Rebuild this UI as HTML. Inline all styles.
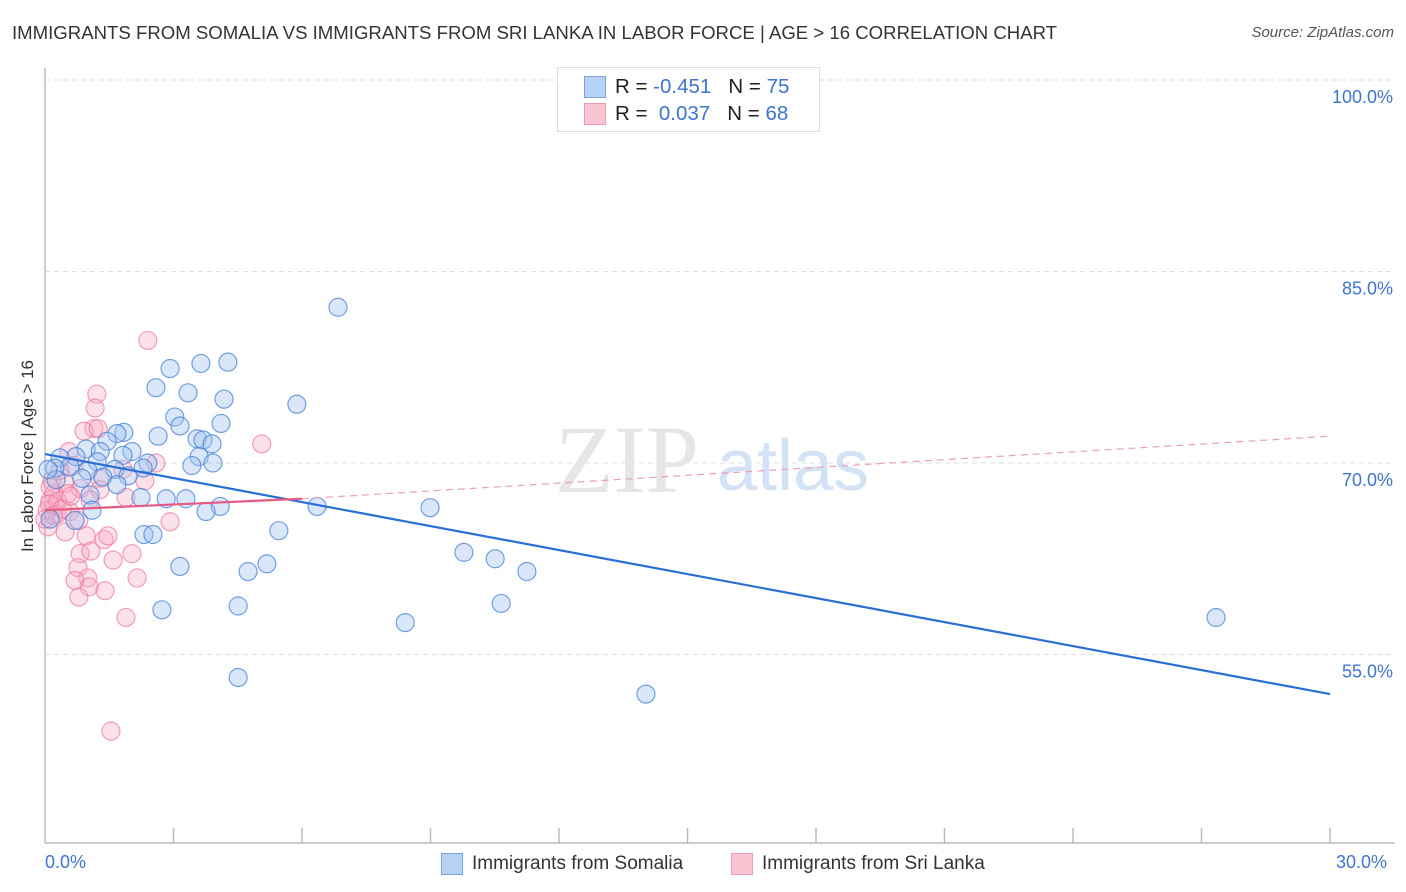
<!DOCTYPE html>
<html><head><meta charset="utf-8"><style>
body{margin:0;background:#fff;font-family:"Liberation Sans",sans-serif;}
#wrap{position:relative;width:1406px;height:892px;overflow:hidden;}
.t{position:absolute;white-space:nowrap;}
</style></head><body>
<div id="wrap">
<div class="t" style="left:12px;top:22px;font-size:18.6px;color:#333;">IMMIGRANTS FROM SOMALIA VS IMMIGRANTS FROM SRI LANKA IN LABOR FORCE | AGE &gt; 16 CORRELATION CHART</div>
<div class="t" style="right:12px;top:24px;font-size:15px;color:#555;font-style:italic;">Source: ZipAtlas.com</div>
<div class="t" style="left:28px;top:456px;font-size:17px;color:#333;transform:translate(-50%,-50%) rotate(-90deg);">In Labor Force | Age &gt; 16</div>
<svg id="svg" width="1406" height="892" style="position:absolute;left:0;top:0"></svg>
<div style="position:absolute;left:557px;top:67px;width:261px;height:63px;border:1px solid #ddd;background:#fff;">
 <div style="position:absolute;left:26px;top:8px;width:20px;height:20px;background:#b8d2f5;border:1px solid #7aa6e0;"></div>
 <div class="t" style="left:57px;top:7px;font-size:20.5px;color:#222;">R = <span style="color:#3f74cf">-0.451</span>&nbsp;&nbsp;&nbsp;N = <span style="color:#3f74cf">75</span></div>
 <div style="position:absolute;left:26px;top:35px;width:20px;height:20px;background:#fac4d3;border:1px solid #f09ab3;"></div>
 <div class="t" style="left:57px;top:34px;font-size:20.5px;color:#222;">R = &nbsp;<span style="color:#3f74cf">0.037</span>&nbsp;&nbsp;&nbsp;N = <span style="color:#3f74cf">68</span></div>
</div>
<div class="t" style="left:45px;top:852px;font-size:18px;color:#3f74cf;">0.0%</div>
<div class="t" style="left:1336px;top:852px;font-size:18px;color:#3f74cf;">30.0%</div>
<div style="position:absolute;left:441px;top:853px;width:20px;height:20px;background:#b8d2f5;border:1px solid #7aa6e0;"></div>
<div class="t" style="left:472px;top:853px;font-size:19px;color:#333;">Immigrants from Somalia</div>
<div style="position:absolute;left:731px;top:853px;width:20px;height:20px;background:#fac4d3;border:1px solid #f09ab3;"></div>
<div class="t" style="left:762px;top:853px;font-size:19px;color:#333;">Immigrants from Sri Lanka</div>
</div>
<script>
const yTicks=[100,85,70,55];
const yTickLabels=["100.0%","85.0%","70.0%","55.0%"];
const somaliaX=[6.84,4.27,3.64,2.92,2.59,3.34,4.18,5.88,3.03,4.11,3.15,1.84,1.68,2.64,1.45,3.55,3.69,3.90,0.96,1.29,2.03,1.82,3.60,0.72,0.35,1.22,2.40,3.92,3.43,0.58,0.23,2.29,1.63,1.00,1.94,1.35,0.86,0.26,1.68,2.24,2.83,3.29,1.05,4.09,3.76,6.35,8.99,1.10,5.46,2.31,2.52,5.18,4.74,3.15,9.78,10.51,11.25,10.65,4.51,2.73,8.41,27.34,4.51,14.03,0.70,0.12,0.07];
const somaliaY=[82.2,77.9,77.8,77.4,75.9,75.5,75.0,74.6,73.6,73.1,72.9,72.4,72.3,72.1,71.7,71.9,71.8,71.5,71.1,70.9,70.9,70.6,70.5,70.5,70.4,70.1,70.0,70.0,69.8,69.7,69.6,69.6,69.5,69.4,69.0,68.9,68.8,68.7,68.3,67.3,67.2,67.2,67.5,66.6,66.2,66.6,66.5,66.3,64.7,64.4,64.4,62.1,61.5,61.9,63.0,62.5,61.5,59.0,58.8,58.5,57.5,57.9,53.2,51.9,65.5,65.6,69.5];
const sriX=[2.40,1.21,1.17,1.14,0.91,1.24,0.56,5.06,2.59,0.68,1.82,0.35,1.28,2.33,0.16,0.47,0.82,1.28,0.21,0.54,1.05,1.89,0.12,0.23,0.05,0.28,0.58,0.79,2.92,0.07,0.47,0.96,1.38,1.47,0.82,1.07,2.03,1.59,0.77,1.00,0.70,2.15,1.03,1.40,0.79,1.89,1.54,0.0,0.12,0.3,0.1,0.2,0.4,0.6];
const sriY=[79.6,75.4,74.3,72.7,72.5,72.7,70.9,71.5,70.0,69.8,69.5,69.4,68.8,68.6,68.6,68.4,68.0,67.9,67.6,67.6,67.1,67.3,67.1,66.6,66.3,66.0,66.2,65.5,65.4,65.0,64.6,64.3,64.0,64.3,62.9,63.1,62.9,62.4,61.8,61.0,60.8,61.0,60.3,60.0,59.5,57.9,49.0,65.6,68.1,67.0,66.8,65.9,66.4,67.4];
const somaliaTrend=[[0,70.7],[30,51.9]];
const sriTrendSolid=[[0,66.3],[6,67.2]];
const sriTrendDash=[[6,67.2],[30,72.1]];
const X=v=>45+v/30*1285, Y=v=>80+(100-v)*12.767;
const svg=document.getElementById('svg'),NS='http://www.w3.org/2000/svg';
function mk(t,a){const e=document.createElementNS(NS,t);for(const k in a)e.setAttribute(k,a[k]);svg.appendChild(e);return e;}
let e=mk('line',{x1:45,y1:68,x2:45,y2:843,stroke:'#bbb','stroke-width':1.5});

e=mk('line',{x1:45,y1:843,x2:1395,y2:843,stroke:'#bbb','stroke-width':1.5});

for(let i=1;i<=10;i++){e=mk('line',{x1:45+i*128.5,y1:828,x2:45+i*128.5,y2:843,stroke:'#bbb','stroke-width':1.5});
}
yTicks.forEach((v,i)=>{e=mk('line',{x1:45,y1:Y(v),x2:1395,y2:Y(v),stroke:'#ddd','stroke-dasharray':'5,4'});

e=mk('text',{x:1393,y:Y(v)+23,'text-anchor':'end','font-size':18,fill:'#3f74cf','font-family':'Liberation Sans'});e.textContent=yTickLabels[i];
});
e=mk('text',{x:555,y:492,'font-size':96,fill:'#e6e6e6','font-family':'Liberation Serif'});e.textContent='ZIP';

e=mk('text',{x:717,y:490,'font-size':72,fill:'#d3e2f4','font-family':'Liberation Sans'});e.textContent='atlas';

sriX.forEach((x,i)=>{e=mk('circle',{cx:X(x),cy:Y(sriY[i]),r:9,fill:'rgba(248,170,195,0.35)',stroke:'rgba(236,120,155,0.7)','stroke-width':1.2});
});
somaliaX.forEach((x,i)=>{e=mk('circle',{cx:X(x),cy:Y(somaliaY[i]),r:9,fill:'rgba(160,196,240,0.4)',stroke:'rgba(70,130,215,0.75)','stroke-width':1.2});
});
e=mk('line',{x1:X(sriTrendDash[0][0]),y1:Y(sriTrendDash[0][1]),x2:X(sriTrendDash[1][0]),y2:Y(sriTrendDash[1][1]),stroke:'#eaa0b8','stroke-width':1.2,'stroke-dasharray':'7,5'});

e=mk('line',{x1:X(somaliaTrend[0][0]),y1:Y(somaliaTrend[0][1]),x2:X(somaliaTrend[1][0]),y2:Y(somaliaTrend[1][1]),stroke:'#2a6fd6','stroke-width':2.2});

e=mk('line',{x1:X(sriTrendSolid[0][0]),y1:Y(sriTrendSolid[0][1]),x2:X(sriTrendSolid[1][0]),y2:Y(sriTrendSolid[1][1]),stroke:'#e45c86','stroke-width':2.2});

</script>
</body></html>
